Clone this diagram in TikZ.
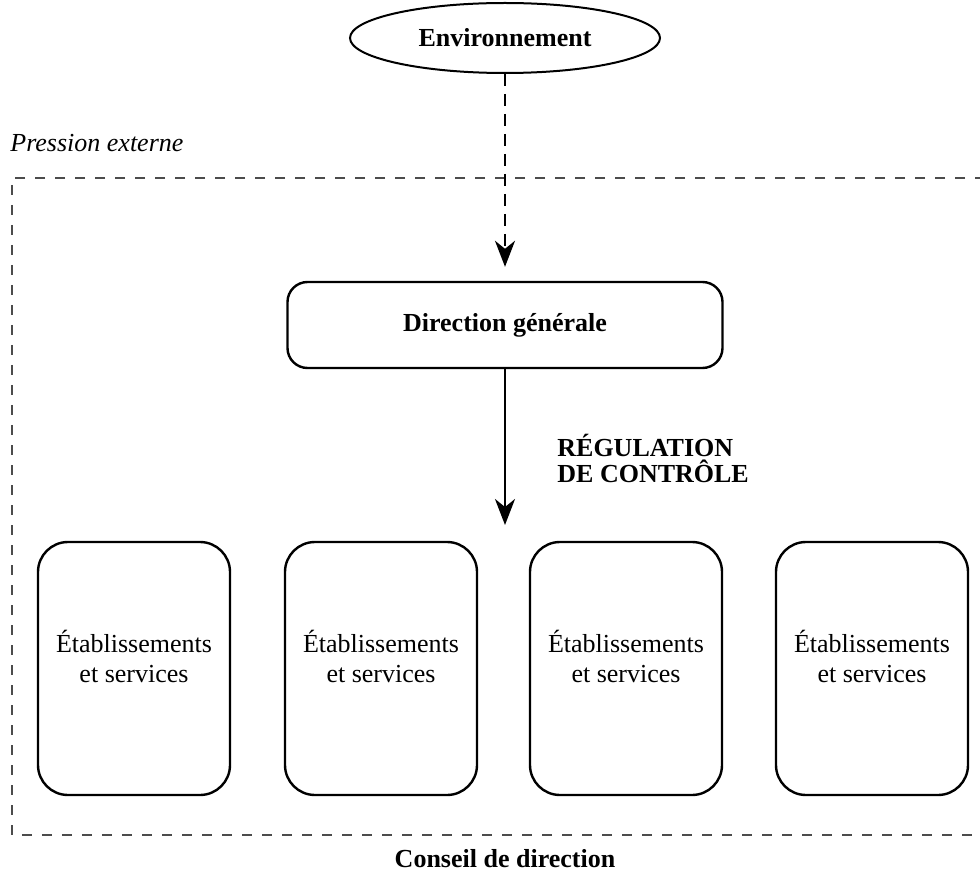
\documentclass[tikz,border=0pt]{standalone}
\usepackage{fontspec}
\setmainfont{Liberation Serif}
\usetikzlibrary{shapes.geometric,arrows.meta}
\begin{document}
\begin{tikzpicture}[x=0.5pt,y=-0.5pt,
	every node/.style={font=\fontsize{13}{15}\selectfont},
	unit/.style={draw,line width=1.2pt,rounded corners=15pt,minimum width=96pt,minimum height=126.5pt,align=center,text depth=12pt},
	flow/.style={line width=1.2pt,shorten >=7pt,-{Stealth[length=13pt,width=10pt,inset=4pt]}},
	frame/.style={black!70,line width=0.6pt,dash pattern=on 5pt off 5pt}]
	\useasboundingbox (0,0) rectangle (980,882);
	\node[draw,ellipse,line width=1pt,minimum width=155pt,minimum height=35pt,font=\fontsize{13}{15}\selectfont\bfseries] (env) at (505,38) {Environnement};
	\node[anchor=base west,inner sep=0pt,font=\fontsize{13}{15}\selectfont\itshape] (press) at (10,152) {Pression externe};
	\draw[frame] (985,178) -- (12,178) -- (12,835) -- (985,835);
	\node[draw,line width=1.2pt,rounded corners=10pt,minimum width=217.5pt,minimum height=43pt,font=\fontsize{13}{15}\selectfont\bfseries] (dg) at (505,325) {Direction générale};
	\coordinate (reg) at (505,539);
	\draw[flow,dash pattern=on 6pt off 4pt] (env) -- (dg);
	\draw[flow] (dg) -- (reg);
	\node[anchor=west,align=left,inner sep=0pt,font=\fontsize{13}{13}\selectfont\bfseries] (lbl) at (557,458) {RÉGULATION\\DE CONTRÔLE};
	\foreach \x [count=\i] in {134,381,626,872}
	\node[unit] (svc\i) at (\x,668.5) {Établissements\\et services};
	\node[anchor=base,font=\fontsize{13}{15}\selectfont\bfseries] (cd) at (505,867) {Conseil de direction};
\end{tikzpicture}
\end{document}
